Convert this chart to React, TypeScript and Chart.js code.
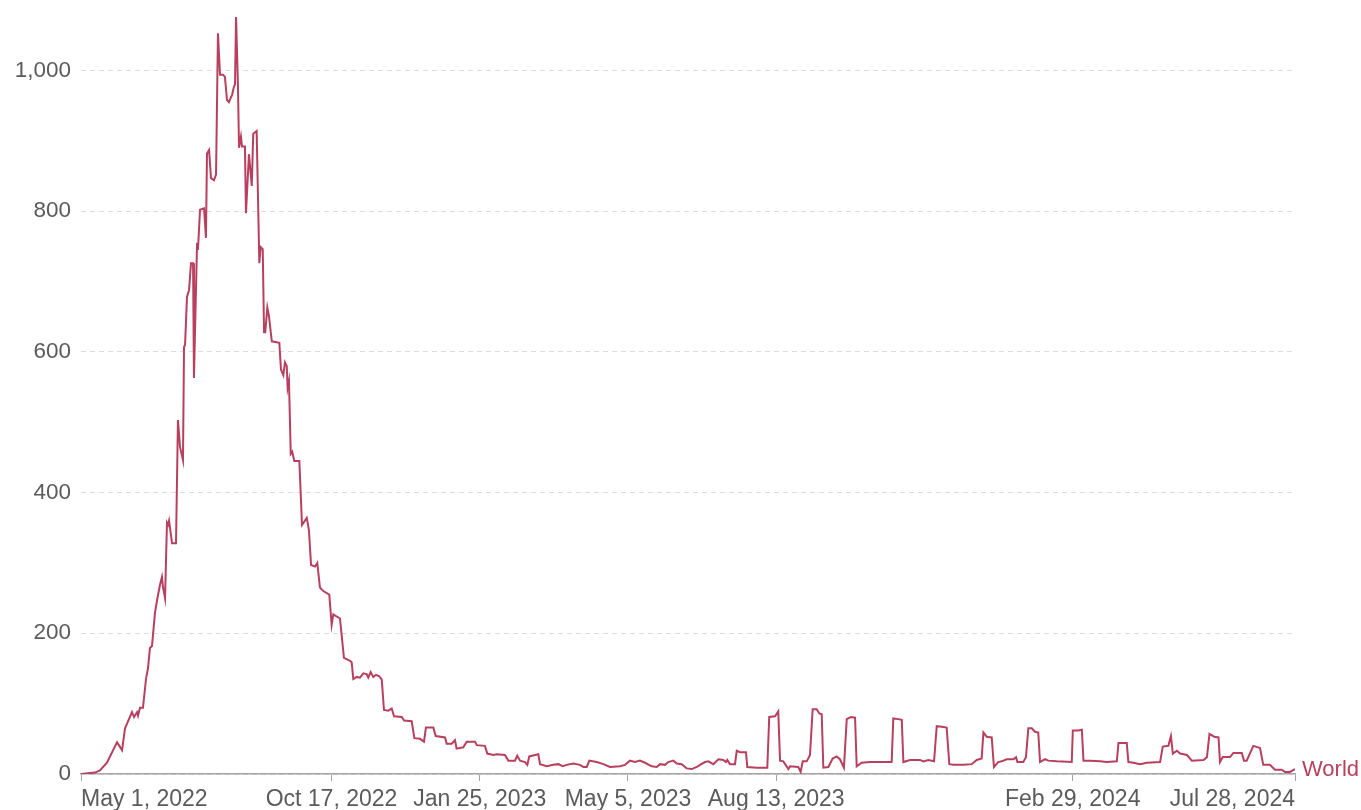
import React, { useEffect, useRef } from "react";
import { Chart, registerables } from "chart.js";

Chart.register(...registerables);

// Days since May 1, 2022
const dayOffsets: number[] = [
  0, 4.7, 9.4, 12.8, 17.5, 24.3, 27.7, 29.7, 34.4, 35.8, 37.8, 38.5, 39.8, 41.8, 43.9, 45.2, 46.5, 47.9, 49.9, 51.3,
  53.3, 54.6, 55.3, 56.7, 58.0, 58.7, 59.4, 61.4, 64.1, 65.4, 66.8, 68.8, 69.5, 70.2, 71.5, 72.9, 74.2, 75.6, 76.2, 78.3,
  78.9, 80.3, 83.0, 84.3, 85.0, 86.4, 87.7, 89.7, 91.1, 92.4, 93.8, 95.8, 97.1, 98.5, 99.8, 101.2, 101.9, 103.2, 103.9, 104.6,
  105.9, 106.6, 107.9, 108.6, 110.6, 111.3, 113.3, 115.2, 116.2, 118.5, 120.3, 121.2, 122.6, 123.5, 124.3, 125.7, 126.8, 128.7, 133.8, 134.9,
  136.5, 137.6, 138.8, 139.4, 140.3, 141.5, 142.5, 143.9, 147.3, 149.1, 152.3, 153.8, 155.2, 157.9, 159.4, 161.2, 163.5, 167.5, 169.1, 170.2,
  174.7, 177.4, 181.5, 182.6, 183.7, 186.0, 188.2, 190.5, 192.7, 193.8, 195.4, 197.2, 199.0, 201.2, 202.9, 204.4, 207.3, 209.6, 211.2, 216.4,
  218.0, 223.1, 224.9, 228.7, 231.4, 232.7, 237.7, 239.3, 245.6, 246.7, 250.1, 252.3, 253.4, 257.9, 260.2, 265.8, 267.0, 272.5, 274.1, 278.1,
  280.4, 286.0, 288.3, 292.8, 294.3, 296.2, 299.5, 301.1, 302.4, 306.3, 308.5, 309.7, 314.2, 318.6, 322.0, 325.0, 327.7, 332.1, 336.6, 338.9,
  341.2, 342.9, 347.9, 352.4, 356.9, 363.6, 367.0, 370.4, 373.7, 377.1, 380.5, 385.0, 388.4, 390.6, 394.0, 396.2, 399.6, 401.9, 405.2, 408.6,
  412.0, 415.4, 417.6, 421.0, 423.2, 426.6, 430.0, 433.3, 435.1, 436.0, 437.8, 441.2, 442.4, 444.6, 448.6, 449.5, 455.8, 463.0, 464.3, 468.2,
  470.4, 471.6, 473.8, 477.2, 478.3, 483.9, 485.5, 486.9, 489.6, 491.8, 493.6, 496.3, 498.1, 499.7, 500.8, 504.2, 507.1, 509.8, 512.0, 514.7,
  516.6, 519.3, 522.2, 523.3, 526.6, 532.3, 546.9, 548.0, 551.4, 553.7, 554.8, 559.3, 566.0, 568.3, 571.6, 575.5, 577.3, 580.6, 584.0, 585.8,
  588.5, 595.2, 600.9, 604.3, 607.6, 608.8, 611.0, 614.4, 615.9, 618.8, 621.1, 624.5, 629.0, 630.8, 631.7, 635.7, 637.5, 639.1, 641.4, 643.6,
  645.8, 647.0, 650.4, 652.6, 658.3, 668.4, 669.1, 672.9, 675.2, 676.3, 680.7, 687.5, 692.0, 698.8, 699.9, 705.5, 706.6, 710.0, 714.5, 719.0,
  728.0, 729.8, 733.6, 735.3, 736.6, 739.3, 741.5, 746.1, 749.4, 757.3, 759.6, 761.3, 764.5, 767.4, 768.4, 770.3, 775.2, 777.4, 783.1, 784.6,
  786.4, 790.9, 795.4, 797.6, 802.1, 805.5, 810.0, 812.2, 815.6, 819.0,
];

// Confirmed mpox cases (daily, 7-day average), World
const worldCases: number[] = [
  0, 1, 2, 5, 16, 45, 34, 65, 88, 81, 88, 83, 94, 94, 136, 150, 179, 182, 229, 247,
  269, 280, 266, 250, 357, 354, 360, 328, 328, 503, 465, 446, 607, 610, 678, 688, 726, 726, 563, 755,
  745, 802, 804, 762, 882, 887, 847, 844, 852, 1053, 994, 994, 991, 958, 955, 962, 965, 977, 980, 1076,
  977, 890, 906, 892, 892, 797, 881, 836, 910, 914, 726, 749, 746, 628, 628, 663, 651, 615, 613, 575,
  567, 585, 580, 549, 559, 455, 458, 445, 445, 354, 364, 346, 297, 295, 300, 265, 260, 255, 212, 227,
  221, 165, 161, 159, 135, 138, 137, 143, 142, 137, 145, 138, 141, 139, 134, 91, 90, 93, 82, 81,
  76, 75, 51, 50, 46, 66, 66, 54, 52, 43, 43, 48, 36, 38, 46, 46, 41, 40, 29, 27,
  28, 27, 19, 19, 26, 19, 17, 13, 25, 27, 28, 14, 11, 13, 14, 11, 13, 15, 13, 10,
  10, 19, 17, 14, 10, 11, 13, 19, 17, 19, 16, 11, 10, 14, 13, 17, 19, 15, 14, 8,
  7, 10, 13, 17, 18, 14, 21, 20, 17, 20, 14, 14, 33, 31, 31, 10, 9, 9, 81, 82,
  89, 19, 18, 7, 11, 10, 3, 18, 18, 27, 92, 92, 86, 85, 9, 10, 22, 25, 21, 9,
  78, 81, 80, 11, 16, 17, 17, 79, 78, 77, 17, 20, 20, 18, 20, 18, 68, 67, 66, 14,
  13, 13, 14, 20, 22, 59, 53, 52, 10, 17, 18, 21, 21, 24, 17, 17, 24, 65, 65, 60,
  59, 17, 21, 19, 18, 17, 62, 62, 63, 19, 19, 18, 17, 18, 44, 44, 17, 16, 14, 16,
  17, 39, 40, 54, 29, 33, 29, 27, 19, 20, 24, 57, 53, 52, 17, 24, 24, 30, 30, 19,
  19, 40, 37, 13, 13, 6, 6, 3, 3, 7,
];

const xTickDates: string[] = [
  "2022-05-01", "2022-10-17", "2023-01-25", "2023-05-05", "2023-08-13", "2024-02-29", "2024-07-28",
];
const xTickLabels: string[] = [
  "May 1, 2022", "Oct 17, 2022", "Jan 25, 2023", "May 5, 2023", "Aug 13, 2023", "Feb 29, 2024", "Jul 28, 2024",
];
const seriesName = "World";

const START = Date.UTC(2022, 4, 1);
const dayOf = (iso: string) => {
  const [y, m, d] = iso.split("-").map(Number);
  return Math.round((Date.UTC(y, m - 1, d) - START) / 86400000);
};
const xTickDays = xTickDates.map(dayOf);

const LINE_COLOR = "#b8405e";
const TEXT_COLOR = "#5b5b5b";
const FONT_FAMILY = "'Liberation Sans', Arial, sans-serif";

export default function App() {
  const canvasRef = useRef<HTMLCanvasElement | null>(null);

  useEffect(() => {
    document.body.style.margin = "0";
    const canvas = canvasRef.current;
    if (!canvas) return;

    const endLabel = {
      id: "endLabel",
      afterDatasetsDraw(chart: any) {
        const meta = chart.getDatasetMeta(0);
        const last = meta.data[meta.data.length - 1];
        if (!last) return;
        const ctx = chart.ctx;
        ctx.save();
        ctx.font = `22px ${FONT_FAMILY}`;
        ctx.fillStyle = LINE_COLOR;
        ctx.textAlign = "left";
        ctx.textBaseline = "middle";
        ctx.fillText(seriesName, last.x + 7, last.y + 1);
        ctx.restore();
      },
    };

    const chart = new Chart(canvas, {
      type: "line",
      data: {
        datasets: [
          {
            label: seriesName,
            data: dayOffsets.map((d, i) => ({ x: d, y: worldCases[i] })),
            borderColor: LINE_COLOR,
            borderWidth: 2,
            pointRadius: 0,
            tension: 0,
            fill: false,
          },
        ],
      },
      options: {
        animation: false,
        responsive: true,
        maintainAspectRatio: false,
        layout: { padding: { top: 17, right: 66, left: 0, bottom: 0 } },
        plugins: { legend: { display: false }, tooltip: { enabled: false } },
        scales: {
          x: {
            type: "linear",
            min: 0,
            max: xTickDays[xTickDays.length - 1],
            afterBuildTicks: (scale: any) => {
              scale.ticks = xTickDays.map((value) => ({ value }));
            },
            afterFit: (scale: any) => {
              scale.height = 36;
              scale.paddingLeft = 0;
              scale.paddingRight = 0;
            },
            ticks: {
              autoSkip: false,
              maxRotation: 0,
              align: "inner",
              padding: 5,
              color: TEXT_COLOR,
              font: { family: FONT_FAMILY, size: 23 },
              callback: (_v: any, i: number) => xTickLabels[i],
            },
            grid: { drawOnChartArea: false, drawTicks: true, tickLength: 7, color: "#a3a3a3" },
            border: { display: true, color: "#a3a3a3", width: 1.5 },
          },
          y: {
            min: 0,
            max: Math.max(...worldCases),
            afterFit: (scale: any) => {
              scale.width = 81;
              scale.paddingTop = 0;
              scale.paddingBottom = 0;
            },
            ticks: {
              stepSize: 200,
              includeBounds: false,
              padding: 10,
              color: TEXT_COLOR,
              font: { family: FONT_FAMILY, size: 22.5 },
              callback: (v: any) => Number(v).toLocaleString("en-US"),
            },
            grid: { color: "#dddddd", drawTicks: false, lineWidth: 1 },
            border: { display: false, dash: [5, 4] },
          },
        },
      },
      plugins: [endLabel],
    });

    return () => chart.destroy();
  }, []);

  return (
    <div style={{ width: "1361px", height: "810px", position: "relative" }}>
      <canvas ref={canvasRef} />
    </div>
  );
}
